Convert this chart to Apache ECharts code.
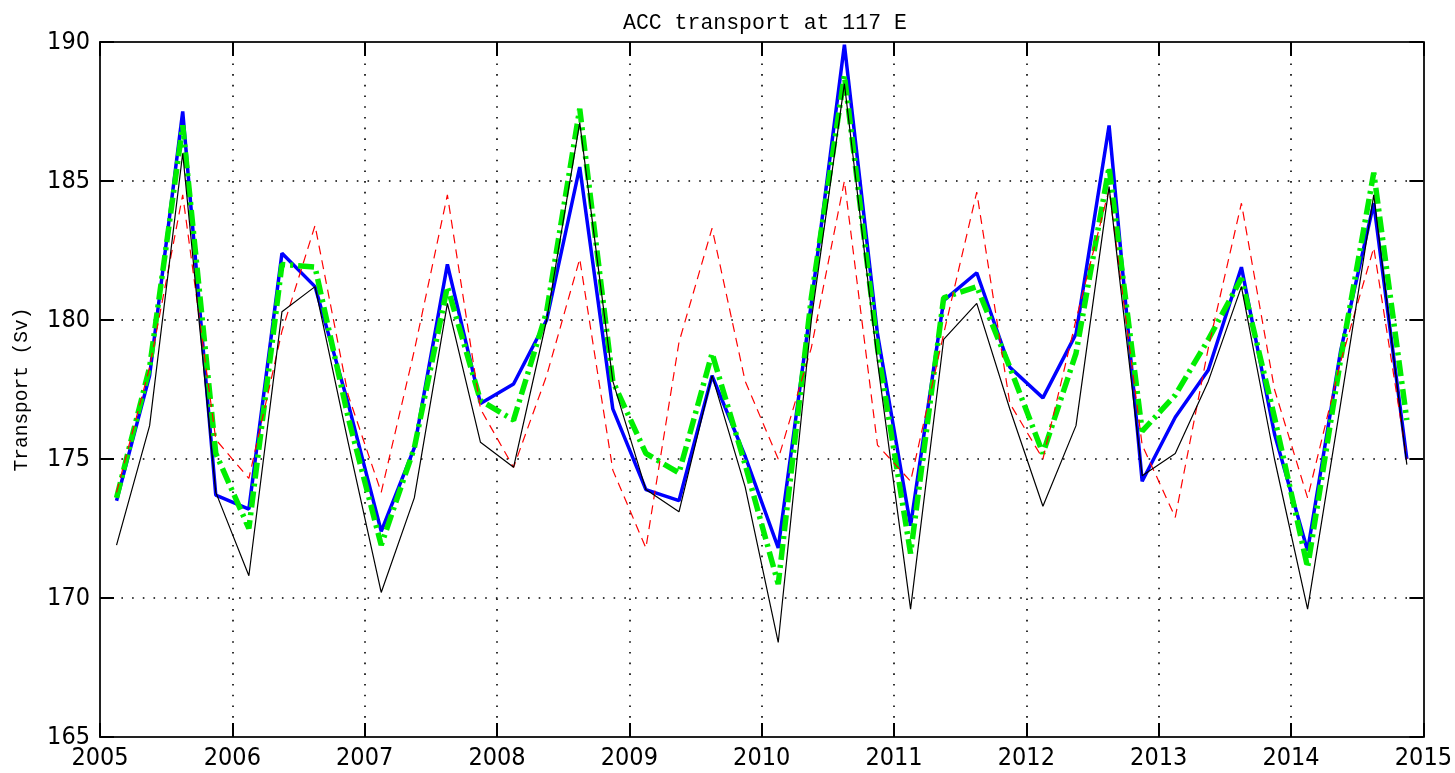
<!DOCTYPE html>
<html>
<head>
<meta charset="utf-8">
<script src="https://cdn.jsdelivr.net/npm/echarts@6/dist/echarts.min.js"></script>
<style>
html,body{margin:0;padding:0;background:#fff;}
#chart{width:1455px;height:773px;}
</style>
</head>
<body>
<div id="chart"></div>
<script>
// Decimal-year sample times (mid-Feb, mid-May, mid-Aug, mid-Nov)
var times = [
  2005.125, 2005.375, 2005.625, 2005.875,
  2006.125, 2006.375, 2006.625, 2006.875,
  2007.125, 2007.375, 2007.625, 2007.875,
  2008.125, 2008.375, 2008.625, 2008.875,
  2009.125, 2009.375, 2009.625, 2009.875,
  2010.125, 2010.375, 2010.625, 2010.875,
  2011.125, 2011.375, 2011.625, 2011.875,
  2012.125, 2012.375, 2012.625, 2012.875,
  2013.125, 2013.375, 2013.625, 2013.875,
  2014.125, 2014.375, 2014.625, 2014.875
];
var blackSeries = [
  171.9, 176.2, 186.0, 173.8,
  170.8, 180.3, 181.2, 175.6,
  170.2, 173.6, 180.6, 175.6,
  174.7, 180.0, 187.1, 177.8,
  173.9, 173.1, 178.0, 174.0,
  168.4, 180.0, 188.5, 178.5,
  169.6, 179.3, 180.6, 176.8,
  173.3, 176.2, 184.8, 174.4,
  175.2, 177.8, 181.2, 175.0,
  169.6, 177.0, 184.5, 174.8
];
var redSeries = [
  173.8, 178.3, 184.5, 175.7,
  174.3, 179.6, 183.4, 177.3,
  173.8, 178.9, 184.5, 176.8,
  174.7, 178.0, 182.2, 174.6,
  171.8, 179.2, 183.3, 177.8,
  175.0, 179.0, 185.0, 175.5,
  174.2, 179.5, 184.6, 177.0,
  175.0, 180.0, 184.7, 175.5,
  172.9, 179.0, 184.2, 177.5,
  173.6, 178.5, 182.6, 175.0
];
var blueSeries = [
  173.5, 178.0, 187.5, 173.7,
  173.2, 182.4, 181.2, 177.0,
  172.4, 175.4, 182.0, 177.0,
  177.7, 180.0, 185.5, 176.8,
  173.9, 173.5, 178.0, 175.1,
  171.8, 180.6, 189.9, 179.5,
  172.6, 180.7, 181.7, 178.3,
  177.2, 179.5, 187.0, 174.2,
  176.5, 178.2, 181.9, 175.9,
  171.7, 178.9, 184.2, 175.0
];
var greenSeries = [
  173.6, 178.3, 187.0, 175.2,
  172.5, 182.0, 181.9, 176.5,
  171.9, 175.4, 181.2, 177.1,
  176.4, 180.3, 187.6, 177.8,
  175.2, 174.5, 178.8, 174.8,
  170.5, 180.8, 188.8, 179.0,
  171.6, 180.8, 181.2, 178.3,
  175.2, 178.8, 185.5, 176.0,
  177.3, 179.3, 181.5, 176.5,
  171.1, 178.6, 185.3, 176.4
];
var xTicks = {min: 2005, max: 2015, step: 1};
var yTicks = {min: 165, max: 190, step: 5};
var titleText = 'ACC transport at 117 E';
var yName = 'Transport (Sv)';

function pairs(vals){ return times.map(function(t,i){ return [t, vals[i]]; }); }

var labelFont = "'Liberation Sans Narrow','DejaVu Sans Condensed','Liberation Sans',sans-serif";
var monoFont = "'Liberation Mono','DejaVu Sans Mono',monospace";
var dotted = {type:[1.6, 9.1], color:'#000', width:1.6};
var frameLine = {show:true, onZero:false, lineStyle:{color:'#222', width:2}};
var inTick = {show:true, inside:true, length:14, lineStyle:{color:'#000', width:2}};

var chart = echarts.init(document.getElementById('chart'), null, {renderer:'canvas'});
chart.setOption({
  animation:false,
  backgroundColor:'#fff',
  title:{text:titleText, left:618, top:7,
    textStyle:{fontFamily:monoFont, fontSize:21.5, fontWeight:'normal', color:'#000'}},
  grid:{left:100, right:31, top:42, bottom:36, containLabel:false},
  xAxis:[
    {type:'value', min:xTicks.min, max:xTicks.max, interval:xTicks.step, position:'bottom',
     axisLine:frameLine, axisTick:inTick,
     axisLabel:{color:'#000', fontFamily:labelFont, fontSize:25, margin:9,
       formatter:function(v){ return String(v); }},
     splitLine:{show:true, lineStyle:dotted}},
    {type:'value', min:xTicks.min, max:xTicks.max, interval:xTicks.step, position:'top',
     axisLine:frameLine, axisTick:inTick, axisLabel:{show:false}, splitLine:{show:false}}
  ],
  yAxis:[
    {type:'value', min:yTicks.min, max:yTicks.max, interval:yTicks.step, position:'left',
     name:yName, nameLocation:'middle', nameGap:68, nameRotate:90,
     nameTextStyle:{fontFamily:monoFont, fontSize:19.5, color:'#000'},
     axisLine:frameLine, axisTick:inTick,
     axisLabel:{color:'#000', fontFamily:labelFont, fontSize:25, margin:10,
       formatter:function(v){ return String(v); }},
     splitLine:{show:true, lineStyle:dotted}},
    {type:'value', min:yTicks.min, max:yTicks.max, interval:yTicks.step, position:'right',
     axisLine:frameLine, axisTick:inTick, axisLabel:{show:false}, splitLine:{show:false}}
  ],
  series:[
    {name:'blue', type:'line', data:pairs(blueSeries), symbol:'none', z:3,
     lineStyle:{color:'#0000ff', width:3.5}},
    {name:'green', type:'line', data:pairs(greenSeries), symbol:'none', z:4,
     lineStyle:{color:'#00ee00', width:5.5, type:[16,5,3,5]}},
    {name:'red', type:'line', data:pairs(redSeries), symbol:'none', z:5,
     lineStyle:{color:'#ff0000', width:1.2, type:[9,6]}},
    {name:'black', type:'line', data:pairs(blackSeries), symbol:'none', z:6,
     lineStyle:{color:'#000', width:1.2}}
  ]
});
</script>
</body>
</html>
